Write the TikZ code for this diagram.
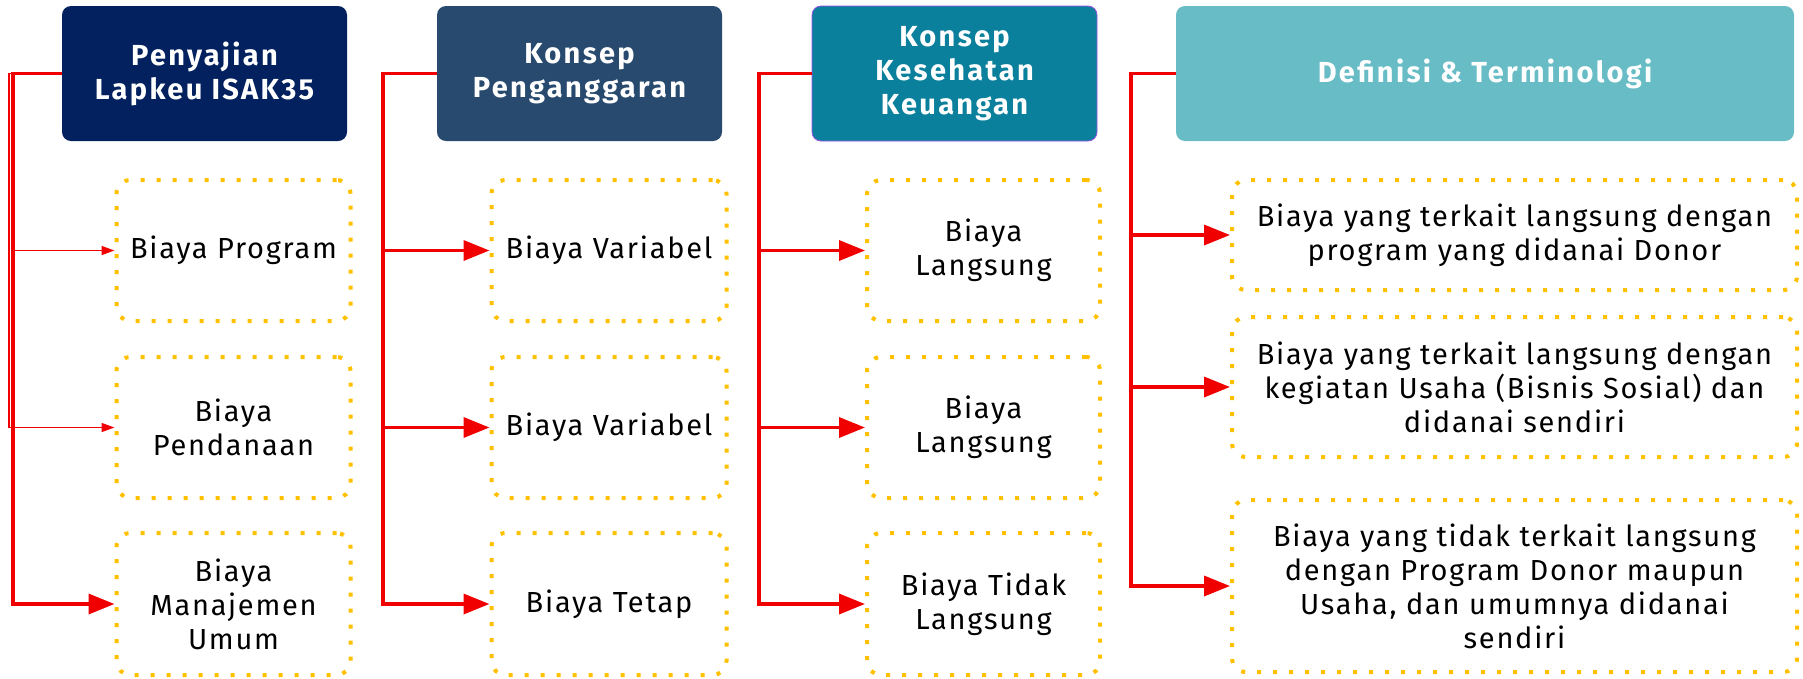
\documentclass[tikz,border=0pt]{standalone}
\usepackage{fontspec}
\setmainfont[LetterSpace=6,BoldFeatures={LetterSpace=8}]{Fira Sans}
\usetikzlibrary{arrows.meta}
\usetikzlibrary{positioning}

\begin{document}
\begin{tikzpicture}[x=1pt,y=-1pt,
	font=\fontsize{29}{34}\selectfont,
	head node/.style={rounded corners=9pt,minimum width=285pt,minimum height=135pt,
		inner sep=0pt,align=center,text=white,font=\fontsize{29}{34}\selectfont\bfseries},
	sub node/.style={draw=gold,line width=4pt,dash pattern=on 4pt off 12pt,
		rounded corners=14pt,inner sep=0pt,align=center,text=black},
	main line/.style={linered,line width=3.5pt},
	main arrow/.style={main line,-{Triangle[length=26pt,width=20pt]}},
	thin arrow/.style={linered,line width=1.5pt,-{Triangle[length=13pt,width=9pt]}}]
	
	\definecolor{navy}{RGB}{2,33,94}
	\definecolor{slate}{RGB}{40,74,110}
	\definecolor{teal}{RGB}{11,128,156}
	\definecolor{aqua}{RGB}{103,188,198}
	\definecolor{gold}{RGB}{255,192,0}
	\definecolor{linered}{RGB}{240,0,0}
	\definecolor{violet}{RGB}{150,80,230}
	
	\useasboundingbox (0,0) rectangle (1803,678);
	
	% header boxes
	\node[head node, fill=navy] (h1) at (204.5,73.5) {Penyajian\\Lapkeu ISAK35};
	\node[head node, fill=slate] (h2) at (579.5,73.5) {Konsep\\Penganggaran};
	\node[head node, fill=teal, draw=violet, line width=0.8pt] (h3) at (954.5,73.5) {Konsep\\Kesehatan\\Keuangan};
	\node[head node, fill=aqua, minimum width=618pt] (h4) at (1485,73.5) {Definisi \& Terminologi};
	
	% column 1
	\node[sub node, minimum width=234pt, minimum height=141pt] (p1) at (233.5,250.5) {Biaya Program};
	\node[sub node, minimum width=234pt, minimum height=141pt] (p2) at (233.5,427.5) {Biaya\\Pendanaan};
	\node[sub node, minimum width=234pt, minimum height=142pt] (p3) at (233.5,604) {Biaya\\Manajemen\\Umum};
	
	% column 2
	\node[sub node, minimum width=235pt, minimum height=141pt] (v1) at (609,250.5) {Biaya Variabel};
	\node[sub node, minimum width=235pt, minimum height=141pt] (v2) at (609,427.5) {Biaya Variabel};
	\node[sub node, minimum width=235pt, minimum height=142pt] (v3) at (609,604) {Biaya Tetap};
	
	% column 3
	\node[sub node, minimum width=233pt, minimum height=141pt] (k1) at (983.5,250.5) {Biaya\\Langsung};
	\node[sub node, minimum width=233pt, minimum height=141pt] (k2) at (983.5,427.5) {Biaya\\Langsung};
	\node[sub node, minimum width=233pt, minimum height=142pt] (k3) at (983.5,604) {Biaya Tidak\\Langsung};
	
	% column 4
	\node[sub node, minimum width=565pt, minimum height=110pt] (d1) at (1514.5,235) {Biaya yang terkait langsung dengan\\program yang didanai Donor};
	\node[sub node, minimum width=565pt, minimum height=140pt] (d2) at (1514.5,387) {Biaya yang terkait langsung dengan\\kegiatan Usaha (Bisnis Sosial) dan\\didanai sendiri};
	\node[sub node, minimum width=565pt, minimum height=172pt] (d3) at (1514.5,586) {Biaya yang tidak terkait langsung\\dengan Program Donor maupun\\Usaha, dan umumnya didanai\\sendiri};
	
	% branch points
	\coordinate (b1) at (13,73.5);
	\coordinate (b1a) at (9,73.5);
	\coordinate (b2) at (383,73.5);
	\coordinate (b3) at (759,73.5);
	\coordinate (b4) at (1131,73.5);
	
	\draw[thin arrow] (h1.west) -- (b1a) |- (p2.west);
	\draw[main arrow] (h1.west) -- (b1) |- (p3.west);
	\draw[thin arrow] (b1 |- p1.west) -- (p1.west);
	
	\draw[main arrow] (h2.west) -- (b2) |- (v3.west);
	\draw[main arrow] (b2 |- v1.west) -- (v1.west);
	\draw[main arrow] (b2 |- v2.west) -- (v2.west);
	
	\draw[main arrow] (h3.west) -- (b3) |- (k3.west);
	\draw[main arrow] (b3 |- k1.west) -- (k1.west);
	\draw[main arrow] (b3 |- k2.west) -- (k2.west);
	
	\draw[main arrow] (h4.west) -- (b4) |- (d3.west);
	\draw[main arrow] (b4 |- d1.west) -- (d1.west);
	\draw[main arrow] (b4 |- d2.west) -- (d2.west);
\end{tikzpicture}
\end{document}
